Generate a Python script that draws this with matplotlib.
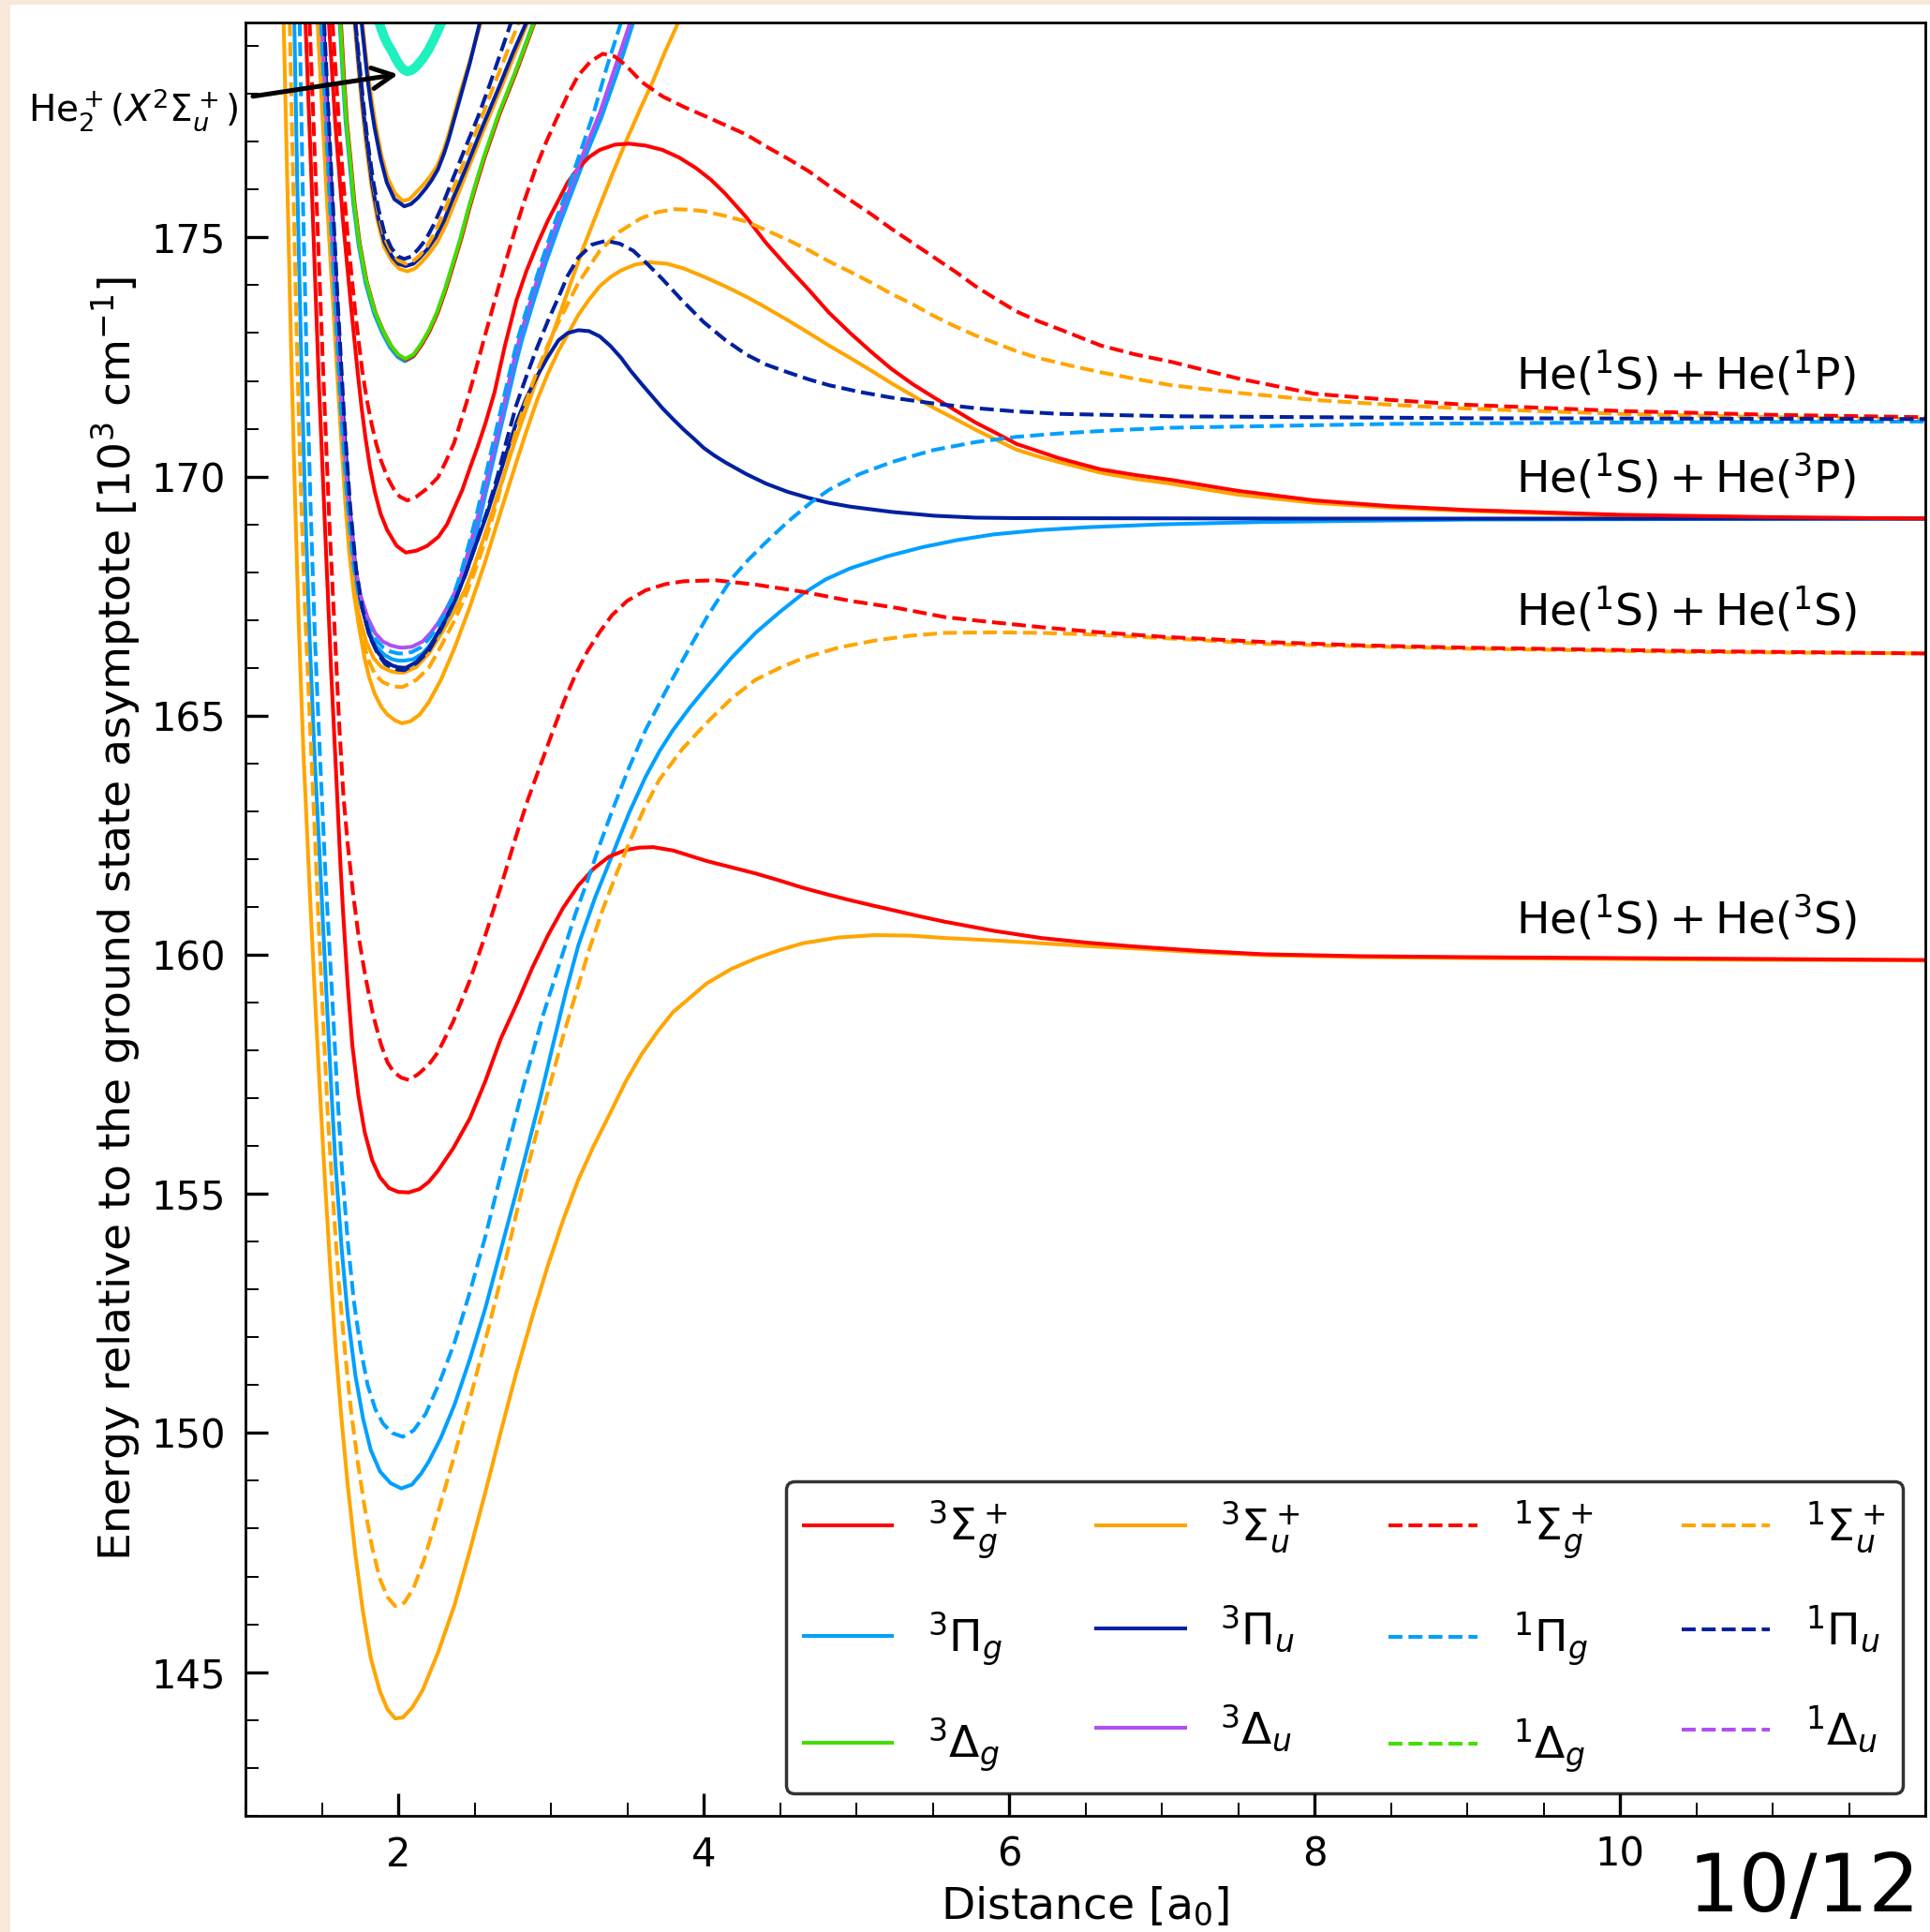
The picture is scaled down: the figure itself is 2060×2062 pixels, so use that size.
import numpy as np
import matplotlib.pyplot as plt
from matplotlib.lines import Line2D
from matplotlib.patches import Rectangle
from matplotlib.ticker import MultipleLocator, FixedLocator

# --- colours per symmetry ---
C_SG = '#ff0000'   # Sigma_g
C_SU = '#ffa500'   # Sigma_u
C_PG = '#00a0ff'   # Pi_g
C_PU = '#0020a0'   # Pi_u
C_DG = '#44dd00'   # Delta_g
C_DU = '#b050f0'   # Delta_u
C_ION = '#1ef0be'  # He2+ ion
PEACH = '#f8e8da'

# --- potential curves (R in a0, E in 1e3 cm-1) ---
# 3Sigma_g+ (red solid)
sg3_a_x = [1.393, 1.437, 1.479, 1.52, 1.56, 1.601, 1.62, 1.64, 1.67, 1.70, 1.74, 1.78, 1.83, 1.88, 1.94, 2.0,
           2.07, 2.14, 2.20, 2.26, 2.36, 2.47, 2.57, 2.67, 2.78, 2.88, 2.98, 3.08, 3.18, 3.28, 3.38, 3.49, 3.58,
           3.67, 3.80, 4.02, 4.18, 4.34, 4.50, 4.65, 4.80, 4.96, 5.12, 5.27, 5.42, 5.58, 5.90, 6.21, 6.52, 6.83,
           7.25, 7.67, 8.3, 9.0, 10.5, 12.0]
sg3_a_y = [179.5, 175.8, 172.1, 169.0, 166.0, 163.3, 162.0, 160.85, 159.35, 158.1, 157.05, 156.3, 155.7, 155.35,
           155.12, 155.04, 155.03, 155.1, 155.25, 155.48, 155.95, 156.58, 157.35, 158.23, 159.0, 159.74, 160.4,
           160.98, 161.45, 161.8, 162.05, 162.19, 162.24, 162.25, 162.18, 161.96, 161.83, 161.7, 161.55, 161.4,
           161.27, 161.14, 161.02, 160.91, 160.8, 160.69, 160.5, 160.35, 160.25, 160.17, 160.08, 160.01, 159.97,
           159.95, 159.92, 159.89]
sg3_b_x = [1.546, 1.59, 1.64, 1.69, 1.734, 1.76, 1.785, 1.815, 1.847, 1.885, 1.928, 1.99, 2.05, 2.12, 2.19,
           2.264, 2.32, 2.366, 2.42, 2.47, 2.52, 2.57, 2.63, 2.70, 2.774, 2.84, 2.91, 2.98, 3.05, 3.11, 3.18, 3.25,
           3.32, 3.42, 3.51, 3.62, 3.73, 3.84, 3.95, 4.05, 4.14, 4.28, 4.41, 4.55, 4.69, 4.82, 4.96, 5.10, 5.23,
           5.37, 5.51, 5.65, 5.78, 5.92, 6.05, 6.20, 6.33, 6.47, 6.60, 6.83, 7.06, 7.5, 8.0, 8.5, 9.0, 10.0, 11.0,
           12.0]
sg3_b_y = [179.5, 177.3, 175.3, 173.6, 172.2, 171.45, 170.83, 170.2, 169.68, 169.22, 168.88, 168.55, 168.41,
           168.45, 168.55, 168.74, 169.0, 169.33, 169.72, 170.18, 170.62, 171.1, 171.75, 172.75, 173.68, 174.3,
           174.85, 175.35, 175.78, 176.15, 176.45, 176.68, 176.83, 176.94, 176.96, 176.92, 176.83, 176.67, 176.45,
           176.2, 175.92, 175.42, 174.88, 174.38, 173.9, 173.43, 173.0, 172.6, 172.25, 171.93, 171.65, 171.38,
           171.13, 170.9, 170.68, 170.52, 170.38, 170.26, 170.15, 170.03, 169.93, 169.7, 169.5, 169.38, 169.3,
           169.2, 169.15, 169.12]
sg3_c_x = [1.625, 1.646, 1.664, 1.687, 1.714, 1.748, 1.794, 1.851, 1.904, 1.954, 2.004, 2.051, 2.104, 2.157,
           2.204, 2.26, 2.314, 2.362, 2.414, 2.464, 2.514, 2.567, 2.664, 2.771, 2.894]
sg3_c_y = [179.5, 178.31, 177.43, 176.68, 175.73, 174.88, 174.08, 173.43, 173.03, 172.73, 172.53, 172.44, 172.53,
           172.77, 173.03, 173.43, 173.93, 174.43, 174.98, 175.58, 176.13, 176.68, 177.58, 178.44, 179.5]

# 3Sigma_u+ (orange solid)
su3_a_x = [1.25, 1.275, 1.30, 1.325, 1.35, 1.38, 1.42, 1.46, 1.49, 1.52, 1.555, 1.59, 1.63, 1.67, 1.72, 1.77,
           1.82, 1.88, 1.93, 1.98, 2.03, 2.09, 2.16, 2.26, 2.37, 2.47, 2.57, 2.67, 2.77, 2.88, 2.98, 3.08, 3.18,
           3.28, 3.39, 3.49, 3.59, 3.70, 3.80, 3.91, 4.02, 4.18, 4.34, 4.50, 4.65, 4.88, 5.12, 5.35, 5.58, 5.90,
           6.21, 6.52, 6.83, 7.25, 7.67, 8.3, 9.0, 10.5, 12.0]
su3_a_y = [179.5, 176.0, 172.5, 169.5, 166.8, 164.2, 161.4, 158.8, 157.0, 155.3, 153.45, 151.8, 150.25, 148.9,
           147.45, 146.25, 145.3, 144.6, 144.22, 144.03, 144.05, 144.25, 144.62, 145.4, 146.41, 147.55, 148.75,
           150.0, 151.22, 152.45, 153.5, 154.45, 155.3, 156.0, 156.7, 157.35, 157.9, 158.4, 158.8, 159.1, 159.4,
           159.7, 159.92, 160.1, 160.24, 160.36, 160.41, 160.4, 160.35, 160.3, 160.24, 160.18, 160.13, 160.05,
           159.99, 159.95, 159.93, 159.9, 159.88]
su3_b_x = [1.472, 1.50, 1.535, 1.57, 1.60, 1.632, 1.655, 1.68, 1.71, 1.744, 1.78, 1.81, 1.847, 1.89, 1.93, 1.98,
           2.024, 2.08, 2.14, 2.2, 2.28, 2.366, 2.47, 2.57, 2.67, 2.774, 2.84, 2.91, 2.98, 3.05, 3.12, 3.18, 3.25,
           3.32, 3.39, 3.46, 3.55, 3.65, 3.76, 3.87, 4.0, 4.14, 4.28, 4.41, 4.55, 4.69, 4.82, 4.96, 5.10, 5.23,
           5.37, 5.51, 5.65, 5.78, 5.92, 6.05, 6.19, 6.33, 6.60, 6.83, 7.06, 7.5, 8.0, 8.5, 9.0, 10.0, 11.0, 12.0]
su3_b_y = [179.5, 177.8, 175.7, 173.8, 172.2, 170.5, 169.4, 168.4, 167.55, 166.85, 166.2, 165.8, 165.45, 165.18,
           165.02, 164.9, 164.84, 164.88, 165.02, 165.28, 165.75, 166.39, 167.28, 168.22, 169.25, 170.3, 170.95,
           171.6, 172.15, 172.63, 173.03, 173.38, 173.7, 173.98, 174.17, 174.31, 174.43, 174.48, 174.45, 174.35,
           174.18, 173.98, 173.76, 173.53, 173.27, 173.0, 172.74, 172.48, 172.21, 171.95, 171.69, 171.43, 171.2,
           170.98, 170.76, 170.56, 170.42, 170.3, 170.08, 169.95, 169.85, 169.62, 169.45, 169.35, 169.28, 169.18,
           169.14, 169.12]
su3_c_x = [1.49, 1.535, 1.58, 1.62, 1.66, 1.70, 1.74, 1.79, 1.84, 1.89, 1.95, 2.0, 2.04, 2.12, 2.2, 2.28, 2.37,
           2.44, 2.5, 2.58, 2.65, 2.71, 2.767, 2.86, 2.95, 3.04, 3.13, 3.22, 3.315, 3.41, 3.50, 3.59, 3.67, 3.75,
           3.835]
su3_c_y = [179.5, 176.5, 173.6, 171.3, 169.4, 168.0, 167.15, 166.55, 166.2, 166.02, 165.93, 165.9, 165.9, 166.02,
           166.3, 166.7, 167.2, 167.65, 168.15, 168.9, 169.6, 170.2, 170.76, 171.6, 172.42, 173.23, 174.05, 174.85,
           175.62, 176.38, 177.07, 177.72, 178.28, 178.9, 179.5]
su3_d_x = [1.714, 1.74, 1.765, 1.79, 1.826, 1.865, 1.908, 1.96, 2.01, 2.061, 2.11, 2.15, 2.2, 2.256, 2.31, 2.36,
           2.41, 2.46, 2.56, 2.664, 2.76, 2.849]
su3_d_y = [179.5, 178.55, 177.68, 176.95, 176.05, 175.35, 174.8, 174.5, 174.34, 174.29, 174.35, 174.47, 174.65,
           174.9, 175.25, 175.65, 176.05, 176.45, 177.25, 178.05, 178.8, 179.5]
su3_e_x = [1.765, 1.785, 1.806, 1.83, 1.85, 1.888, 1.93, 1.98, 2.03, 2.075, 2.12, 2.17, 2.21, 2.256, 2.30, 2.33,
           2.365, 2.399, 2.47, 2.542]
su3_e_y = [179.5, 178.9, 178.33, 177.8, 177.4, 176.75, 176.25, 175.92, 175.76, 175.8, 175.95, 176.12, 176.28,
           176.5, 176.85, 177.15, 177.55, 177.95, 178.7, 179.5]

# 3Pi_g (light blue solid)
pg3_a_x = [1.32, 1.34, 1.365, 1.39, 1.42, 1.455, 1.49, 1.53, 1.56, 1.59, 1.63, 1.67, 1.72, 1.77, 1.82, 1.88,
           1.95, 2.02, 2.09, 2.15, 2.2, 2.28, 2.37, 2.47, 2.57, 2.67, 2.77, 2.85, 2.93, 3.02, 3.10, 3.18, 3.29,
           3.40, 3.51, 3.62, 3.71, 3.80, 3.91, 4.02, 4.18, 4.34, 4.50, 4.65, 4.80, 4.96, 5.20, 5.43, 5.66, 5.90,
           6.20, 6.52, 7.0, 7.67, 9.0, 12.0]
pg3_a_y = [179.5, 176.0, 172.5, 169.5, 166.6, 164.0, 161.8, 159.2, 157.3, 155.6, 153.85, 152.45, 151.2, 150.3,
           149.65, 149.2, 148.95, 148.84, 148.92, 149.15, 149.4, 149.9, 150.6, 151.55, 152.6, 153.8, 155.0, 156.0,
           157.0, 158.2, 159.25, 160.2, 161.2, 162.07, 162.95, 163.72, 164.25, 164.7, 165.17, 165.6, 166.2,
           166.73, 167.17, 167.55, 167.85, 168.08, 168.33, 168.52, 168.67, 168.79, 168.88, 168.94, 169.0, 169.05,
           169.1, 169.12]
pg3_b_x = [1.505, 1.55, 1.595, 1.635, 1.675, 1.715, 1.755, 1.805, 1.855, 1.91, 1.96, 2.0, 2.04, 2.10, 2.16, 2.21,
           2.27, 2.32, 2.38, 2.43, 2.48, 2.53, 2.58, 2.62, 2.66, 2.70, 2.73, 2.77, 2.81, 2.89, 2.97, 3.06, 3.15,
           3.24, 3.33, 3.44, 3.54]
pg3_b_y = [179.5, 176.5, 173.7, 171.4, 169.5, 168.15, 167.35, 166.8, 166.45, 166.27, 166.18, 166.15, 166.15,
           166.18, 166.3, 166.48, 166.75, 167.05, 167.45, 167.92, 168.45, 169.05, 169.75, 170.3, 170.85, 171.4,
           171.8, 172.35, 172.85, 173.7, 174.5, 175.3, 176.05, 176.8, 177.5, 178.5, 179.5]
pg3_c_x = [1.617, 1.638, 1.656, 1.679, 1.706, 1.74, 1.786, 1.843, 1.896, 1.946, 1.996, 2.043, 2.096, 2.149,
           2.196, 2.252, 2.306, 2.354, 2.406, 2.456, 2.506, 2.559, 2.656, 2.763, 2.886]
pg3_c_y = [179.5, 178.3, 177.42, 176.66, 175.72, 174.86, 174.05, 173.4, 173.0, 172.7, 172.5, 172.41, 172.5,
           172.74, 173.0, 173.4, 173.9, 174.4, 174.95, 175.55, 176.1, 176.65, 177.55, 178.42, 179.5]

# 3Pi_u (dark blue solid)
pu3_a_x = [1.51, 1.555, 1.60, 1.64, 1.68, 1.72, 1.76, 1.81, 1.86, 1.91, 1.96, 2.0, 2.05, 2.12, 2.2, 2.28, 2.37,
           2.44, 2.5, 2.58, 2.65, 2.71, 2.774, 2.84, 2.91, 2.98, 3.05, 3.11, 3.18, 3.25, 3.32, 3.39, 3.46, 3.52,
           3.59, 3.66, 3.73, 3.80, 3.87, 3.94, 4.0, 4.07, 4.14, 4.28, 4.41, 4.55, 4.69, 4.82, 4.96, 5.23, 5.51,
           5.78, 6.05, 8.0, 12.0]
pu3_a_y = [179.5, 176.5, 173.6, 171.3, 169.45, 168.1, 167.3, 166.7, 166.35, 166.15, 166.05, 166.01, 166.0,
           166.12, 166.4, 166.85, 167.4, 167.95, 168.5, 169.2, 169.9, 170.5, 171.13, 171.65, 172.1, 172.5, 172.85,
           173.0, 173.06, 173.04, 172.93, 172.73, 172.48, 172.22, 171.95, 171.69, 171.43, 171.2, 170.98, 170.78,
           170.6, 170.44, 170.3, 170.05, 169.85, 169.68, 169.55, 169.45, 169.37, 169.26, 169.18, 169.14, 169.13,
           169.12, 169.12]
pu3_b_x = [1.718, 1.745, 1.77, 1.795, 1.83, 1.87, 1.91, 1.96, 2.0, 2.05, 2.10, 2.14, 2.19, 2.245, 2.30, 2.35,
           2.40, 2.45, 2.55, 2.655, 2.75, 2.84]
pu3_b_y = [179.5, 178.5, 177.7, 177.0, 176.1, 175.4, 174.9, 174.6, 174.45, 174.4, 174.45, 174.57, 174.75, 175.0,
           175.35, 175.75, 176.12, 176.5, 177.3, 178.1, 178.85, 179.5]
pu3_c_x = [1.76, 1.78, 1.80, 1.823, 1.845, 1.885, 1.925, 1.975, 2.04, 2.085, 2.13, 2.18, 2.22, 2.26, 2.30, 2.33,
           2.365, 2.40, 2.47, 2.535]
pu3_c_y = [179.5, 178.9, 178.3, 177.75, 177.3, 176.65, 176.15, 175.8, 175.65, 175.7, 175.83, 176.02, 176.2,
           176.42, 176.75, 177.05, 177.45, 177.85, 178.65, 179.5]

# 3Delta_g (green solid) and 3Delta_u (purple solid)
dg3_x = [1.621, 1.642, 1.66, 1.683, 1.71, 1.744, 1.79, 1.847, 1.90, 1.95, 2.0, 2.047, 2.10, 2.153, 2.2, 2.256,
         2.31, 2.358, 2.41, 2.46, 2.51, 2.563, 2.66, 2.767, 2.89]
dg3_y = [179.5, 178.33, 177.45, 176.7, 175.75, 174.9, 174.1, 173.45, 173.05, 172.75, 172.55, 172.46, 172.55,
         172.79, 173.05, 173.45, 173.95, 174.45, 175.0, 175.6, 176.15, 176.7, 177.6, 178.46, 179.5]
du3_x = [1.50, 1.545, 1.59, 1.63, 1.67, 1.71, 1.75, 1.80, 1.85, 1.90, 1.95, 2.0, 2.03, 2.09, 2.16, 2.21, 2.26,
         2.31, 2.37, 2.42, 2.47, 2.52, 2.57, 2.61, 2.65, 2.69, 2.72, 2.76, 2.80, 2.88, 2.96, 3.05, 3.14, 3.23,
         3.32, 3.42, 3.52]
du3_y = [179.5, 176.5, 173.7, 171.4, 169.6, 168.3, 167.55, 167.05, 166.72, 166.55, 166.47, 166.43, 166.42,
         166.44, 166.55, 166.72, 166.93, 167.2, 167.57, 168.0, 168.55, 169.15, 169.8, 170.35, 170.9, 171.45,
         171.9, 172.45, 172.95, 173.8, 174.6, 175.4, 176.15, 176.9, 177.6, 178.55, 179.5]

# 1Sigma_g+ (red dashed)
sg1_a_x = [1.42, 1.465, 1.51, 1.55, 1.59, 1.615, 1.642, 1.67, 1.704, 1.74, 1.785, 1.835, 1.888, 1.93, 1.97, 2.02,
           2.07, 2.13, 2.20, 2.26, 2.36, 2.47, 2.57, 2.67, 2.774, 2.85, 2.93, 3.01, 3.086, 3.16, 3.24, 3.32, 3.40,
           3.50, 3.62, 3.75, 3.87, 4.08, 4.34, 4.65, 4.96, 5.27, 5.58, 5.90, 6.21, 6.52, 7.0, 7.67, 8.3, 9.0,
           10.5, 12.0]
sg1_a_y = [179.5, 175.8, 172.1, 169.0, 166.4, 164.75, 163.3, 162.3, 161.3, 160.4, 159.55, 158.75, 158.12, 157.75,
           157.55, 157.43, 157.38, 157.5, 157.7, 157.96, 158.6, 159.47, 160.4, 161.4, 162.5, 163.25, 163.95,
           164.65, 165.3, 165.85, 166.35, 166.75, 167.1, 167.4, 167.62, 167.75, 167.81, 167.83, 167.74, 167.59,
           167.4, 167.25, 167.06, 166.95, 166.85, 166.76, 166.65, 166.54, 166.47, 166.42, 166.35, 166.3]
sg1_b_x = [1.57, 1.62, 1.67, 1.72, 1.765, 1.795, 1.826, 1.855, 1.888, 1.93, 1.969, 2.01, 2.06, 2.12, 2.19, 2.26,
           2.31, 2.366, 2.41, 2.46, 2.50, 2.56, 2.63, 2.70, 2.767, 2.83, 2.90, 2.97, 3.04, 3.11, 3.18, 3.26, 3.34,
           3.42, 3.49, 3.595, 3.73, 3.87, 4.0, 4.14, 4.28, 4.41, 4.55, 4.69, 4.82, 4.96, 5.10, 5.23, 5.37, 5.51,
           5.65, 5.78, 5.92, 6.05, 6.19, 6.33, 6.60, 6.83, 7.06, 7.5, 8.0, 8.5, 9.0, 10.0, 11.0, 12.0]
sg1_b_y = [179.5, 177.0, 175.0, 173.4, 172.2, 171.6, 171.1, 170.7, 170.33, 169.98, 169.75, 169.58, 169.5, 169.58,
           169.75, 169.98, 170.3, 170.7, 171.15, 171.68, 172.14, 172.85, 173.65, 174.45, 175.17, 175.8, 176.44,
           177.0, 177.5, 177.98, 178.39, 178.68, 178.84, 178.78, 178.6, 178.25, 177.95, 177.73, 177.55, 177.35,
           177.15, 176.9, 176.65, 176.38, 176.08, 175.78, 175.48, 175.18, 174.88, 174.58, 174.28, 173.98, 173.7,
           173.45, 173.25, 173.08, 172.74, 172.55, 172.4, 172.05, 171.73, 171.6, 171.5, 171.37, 171.29, 171.24]

# 1Sigma_u+ (orange dashed)
su1_a_x = [1.29, 1.31, 1.335, 1.36, 1.39, 1.43, 1.48, 1.51, 1.54, 1.575, 1.61, 1.65, 1.69, 1.735, 1.78, 1.83,
           1.88, 1.93, 1.98, 2.04, 2.10, 2.17, 2.24, 2.37, 2.49, 2.60, 2.71, 2.80, 2.90, 3.0, 3.08, 3.16, 3.25,
           3.34, 3.43, 3.52, 3.61, 3.71, 3.86, 4.02, 4.18, 4.34, 4.50, 4.65, 4.88, 5.12, 5.35, 5.58, 5.90, 6.21,
           6.52, 6.83, 7.25, 7.67, 8.3, 9.0, 10.5, 12.0]
su1_a_y = [179.5, 176.5, 173.0, 170.0, 167.2, 164.3, 160.6, 158.55, 156.6, 154.8, 153.2, 151.75, 150.5, 149.4,
           148.45, 147.6, 146.95, 146.57, 146.38, 146.45, 146.75, 147.35, 148.1, 149.55, 150.95, 152.3, 153.7,
           154.95, 156.2, 157.35, 158.3, 159.15, 160.1, 160.95, 161.7, 162.4, 163.05, 163.66, 164.3, 164.85,
           165.35, 165.75, 166.0, 166.2, 166.42, 166.57, 166.67, 166.73, 166.74, 166.73, 166.7, 166.65, 166.58,
           166.5, 166.45, 166.4, 166.33, 166.3]
su1_b_x = [1.50, 1.545, 1.59, 1.63, 1.67, 1.71, 1.75, 1.80, 1.85, 1.90, 1.95, 2.0, 2.03, 2.12, 2.2, 2.28, 2.37,
           2.44, 2.5, 2.58, 2.65, 2.71, 2.774, 2.84, 2.91, 2.98, 3.05, 3.18, 3.32, 3.45, 3.59, 3.70, 3.81, 3.90,
           4.0, 4.14, 4.28, 4.41, 4.55, 4.69, 4.82, 4.96, 5.10, 5.23, 5.37, 5.50, 5.64, 5.78, 5.92, 6.05, 6.19,
           6.40, 6.60, 6.83, 7.06, 7.5, 8.0, 8.5, 9.0, 10.0, 11.0, 12.0]
su1_b_y = [179.5, 176.5, 173.5, 171.1, 169.2, 167.75, 166.85, 166.2, 165.85, 165.7, 165.63, 165.6, 165.6, 165.75,
           166.0, 166.45, 167.0, 167.5, 168.0, 168.75, 169.5, 170.25, 170.98, 171.6, 172.2, 172.75, 173.23,
           174.05, 174.72, 175.12, 175.4, 175.53, 175.59, 175.58, 175.55, 175.45, 175.33, 175.15, 174.95, 174.73,
           174.5, 174.28, 174.05, 173.82, 173.6, 173.37, 173.15, 172.95, 172.78, 172.62, 172.48, 172.32, 172.18,
           172.04, 171.91, 171.75, 171.6, 171.5, 171.42, 171.31, 171.24, 171.2]
su1_c_x = [1.72, 1.75, 1.775, 1.80, 1.835, 1.87, 1.91, 1.955, 2.0, 2.05, 2.095, 2.14, 2.19, 2.24, 2.29, 2.34,
           2.39, 2.44, 2.54, 2.63, 2.71, 2.79]
su1_c_y = [179.5, 178.5, 177.7, 177.0, 176.15, 175.5, 175.0, 174.7, 174.52, 174.45, 174.5, 174.62, 174.82, 175.1,
           175.45, 175.85, 176.25, 176.65, 177.45, 178.2, 178.85, 179.5]

# 1Pi_g (light blue dashed)
pg1_a_x = [1.355, 1.375, 1.40, 1.425, 1.455, 1.49, 1.525, 1.57, 1.60, 1.63, 1.67, 1.71, 1.755, 1.80, 1.85, 1.90,
           1.96, 2.03, 2.10, 2.18, 2.27, 2.37, 2.47, 2.57, 2.70, 2.82, 2.95, 3.09, 3.16, 3.24, 3.32, 3.40, 3.51,
           3.62, 3.75, 3.87, 4.02, 4.18, 4.29, 4.40, 4.55, 4.70, 4.82, 5.02, 5.23, 5.50, 5.78, 6.05, 6.33, 6.70,
           7.06, 8.5, 10.0, 12.0]
pg1_a_y = [179.5, 176.0, 172.5, 169.5, 166.6, 164.0, 161.6, 159.0, 157.2, 155.6, 154.0, 152.75, 151.75, 151.0,
           150.5, 150.2, 150.0, 149.92, 150.05, 150.4, 151.05, 151.9, 152.95, 154.1, 155.75, 157.25, 158.75,
           160.15, 160.85, 161.55, 162.3, 163.0, 163.9, 164.7, 165.5, 166.2, 167.05, 167.85, 168.25, 168.6,
           169.05, 169.45, 169.72, 170.05, 170.3, 170.55, 170.72, 170.83, 170.9, 170.97, 171.02, 171.1, 171.13,
           171.15]
pg1_b_x = [1.495, 1.54, 1.585, 1.625, 1.665, 1.705, 1.745, 1.795, 1.845, 1.90, 1.95, 2.0, 2.03, 2.09, 2.15, 2.20,
           2.25, 2.30, 2.36, 2.41, 2.46, 2.51, 2.56, 2.60, 2.64, 2.68, 2.71, 2.75, 2.79, 2.87, 2.95, 3.03, 3.12,
           3.20, 3.28, 3.37, 3.46]
pg1_b_y = [179.5, 176.5, 173.7, 171.4, 169.55, 168.2, 167.45, 166.95, 166.62, 166.43, 166.34, 166.3, 166.3,
           166.33, 166.43, 166.6, 166.82, 167.1, 167.5, 167.97, 168.55, 169.15, 169.85, 170.4, 170.95, 171.5,
           171.9, 172.45, 172.95, 173.8, 174.6, 175.35, 176.1, 176.85, 177.6, 178.6, 179.5]

# 1Pi_u (dark blue dashed)
pu1_a_x = [1.515, 1.56, 1.605, 1.645, 1.685, 1.725, 1.765, 1.815, 1.865, 1.915, 1.96, 2.0, 2.04, 2.12, 2.2, 2.28,
           2.37, 2.44, 2.5, 2.58, 2.65, 2.71, 2.774, 2.84, 2.91, 2.98, 3.05, 3.11, 3.18, 3.27, 3.36, 3.45, 3.54,
           3.63, 3.73, 3.86, 4.0, 4.14, 4.28, 4.41, 4.55, 4.69, 4.82, 5.02, 5.23, 5.50, 5.78, 6.05, 6.33, 7.06,
           9.0, 12.0]
pu1_a_y = [179.5, 176.5, 173.6, 171.3, 169.4, 168.05, 167.25, 166.65, 166.3, 166.08, 166.0, 165.96, 165.95,
           166.1, 166.35, 166.8, 167.4, 167.95, 168.5, 169.25, 170.0, 170.75, 171.5, 172.1, 172.7, 173.25, 173.75,
           174.2, 174.58, 174.85, 174.93, 174.87, 174.72, 174.45, 174.13, 173.68, 173.23, 172.86, 172.55, 172.34,
           172.18, 172.03, 171.91, 171.77, 171.65, 171.53, 171.43, 171.36, 171.31, 171.26, 171.22, 171.2]
pu1_b_x = [1.72, 1.75, 1.775, 1.80, 1.835, 1.87, 1.91, 1.955, 2.0, 2.04, 2.085, 2.13, 2.18, 2.23, 2.28, 2.33,
           2.38, 2.43, 2.52, 2.60, 2.67, 2.74]
pu1_b_y = [179.5, 178.5, 177.7, 177.0, 176.2, 175.6, 175.1, 174.78, 174.6, 174.55, 174.6, 174.75, 174.95, 175.25,
           175.6, 176.0, 176.4, 176.8, 177.5, 178.2, 178.85, 179.5]

# He2+ (X 2Sigma_u+) ion curve
ion_x = [1.874, 1.89, 1.91, 1.935, 1.958, 1.985, 2.01, 2.035, 2.06, 2.09, 2.12, 2.16, 2.20, 2.24, 2.284]
ion_y = [179.5, 179.35, 179.18, 179.02, 178.9, 178.73, 178.6, 178.51, 178.47, 178.5, 178.58, 178.73, 178.93,
         179.18, 179.5]

# asymptote labels
asym_labels = [r'$\mathrm{He(^1S) + He(^1P)}$', r'$\mathrm{He(^1S) + He(^3P)}$',
               r'$\mathrm{He(^1S) + He(^1S)}$', r'$\mathrm{He(^1S) + He(^3S)}$']
asym_label_y = [172.16, 170.0, 167.22, 160.77]

legend_labels = [r'$^3\Sigma_g^+$', r'$^3\Pi_g$', r'$^3\Delta_g$',
                 r'$^3\Sigma_u^+$', r'$^3\Pi_u$', r'$^3\Delta_u$',
                 r'$^1\Sigma_g^+$', r'$^1\Pi_g$', r'$^1\Delta_g$',
                 r'$^1\Sigma_u^+$', r'$^1\Pi_u$', r'$^1\Delta_u$']
legend_colors = [C_SG, C_PG, C_DG, C_SU, C_PU, C_DU, C_SG, C_PG, C_DG, C_SU, C_PU, C_DU]
legend_styles = ['-'] * 6 + ['--'] * 6

LW = 2.9

fig = plt.figure(figsize=(20.60, 20.62), dpi=100)
fig.patch.set_facecolor(PEACH)
fig.add_artist(Rectangle((11 / 2060, 0), 1, 1 - 5 / 2062, transform=fig.transFigure,
                         facecolor='white', edgecolor='none', zorder=-5))

ax = fig.add_axes([262 / 2060, 1 - 1937.7 / 2062, (2055 - 262) / 2060, (1937.7 - 23.7) / 2062])

# triplets (solid)
for x, y, c in [(su3_a_x, su3_a_y, C_SU), (su3_b_x, su3_b_y, C_SU), (su3_c_x, su3_c_y, C_SU),
                (su3_d_x, su3_d_y, C_SU), (su3_e_x, su3_e_y, C_SU),
                (pg3_a_x, pg3_a_y, C_PG), (pg3_b_x, pg3_b_y, C_PG), (pg3_c_x, pg3_c_y, C_PG),
                (pu3_a_x, pu3_a_y, C_PU), (pu3_b_x, pu3_b_y, C_PU), (pu3_c_x, pu3_c_y, C_PU),
                (sg3_a_x, sg3_a_y, C_SG), (sg3_b_x, sg3_b_y, C_SG), (sg3_c_x, sg3_c_y, C_SG),
                (dg3_x, dg3_y, C_DG), (du3_x, du3_y, C_DU)]:
    ax.plot(x, y, color=c, lw=LW, ls='-')

# singlets (dashed)
for x, y, c in [(su1_a_x, su1_a_y, C_SU), (su1_b_x, su1_b_y, C_SU), (su1_c_x, su1_c_y, C_SU),
                (sg1_a_x, sg1_a_y, C_SG), (sg1_b_x, sg1_b_y, C_SG),
                (pg1_a_x, pg1_a_y, C_PG), (pg1_b_x, pg1_b_y, C_PG),
                (pu1_a_x, pu1_a_y, C_PU), (pu1_b_x, pu1_b_y, C_PU)]:
    ax.plot(x, y, color=c, lw=LW, ls='--')

ax.plot(ion_x, ion_y, color=C_ION, lw=7.2, solid_capstyle='round')

ax.set_xlim(1, 12)
ax.set_ylim(142, 179.5)
ax.xaxis.set_major_locator(FixedLocator([2, 4, 6, 8, 10]))
ax.xaxis.set_minor_locator(MultipleLocator(0.5))
ax.yaxis.set_major_locator(MultipleLocator(5))
ax.yaxis.set_minor_locator(MultipleLocator(1))
ax.tick_params(which='major', direction='in', length=17, width=2.4, labelsize=30, pad=15)
ax.tick_params(which='minor', direction='in', length=10, width=1.4)
for s in ax.spines.values():
    s.set_linewidth(2)

ax.set_xlabel(r'Distance [a$_0$]', fontsize=34, labelpad=8)
ax.set_ylabel(r'Energy relative to the ground state asymptote [10$^3$ cm$^{-1}$]', fontsize=34, labelpad=7)

for lab, yy in zip(asym_labels, asym_label_y):
    ax.text(9.32, yy, lab, fontsize=34, ha='left', va='center')

ax.annotate('', xy=(2.0, 178.41), xytext=(1.049, 177.95),
            arrowprops=dict(arrowstyle='->', lw=3.6, color='k', mutation_scale=40, shrinkA=0, shrinkB=0))
ax.text(0.951, 177.67, r'$\mathrm{He}_2^+(X^2\Sigma_u^+)$', fontsize=28, ha='right', va='center', clip_on=False)

handles = [Line2D([], [], color=c, ls=s, lw=LW) for c, s in zip(legend_colors, legend_styles)]
leg = ax.legend(handles, legend_labels, ncol=4, loc='lower right', fontsize=34, fancybox=True,
                edgecolor='k', framealpha=0.8, borderaxespad=0.5, labelspacing=1.1,
                handlelength=2.0, handletextpad=0.8, columnspacing=2.0)
leg.get_frame().set_linewidth(2.5)

fig.text(0.995, 0.0105, '10/12', fontsize=62, ha='right', va='baseline')

fig.savefig('out.png', dpi=100, facecolor=fig.get_facecolor())
